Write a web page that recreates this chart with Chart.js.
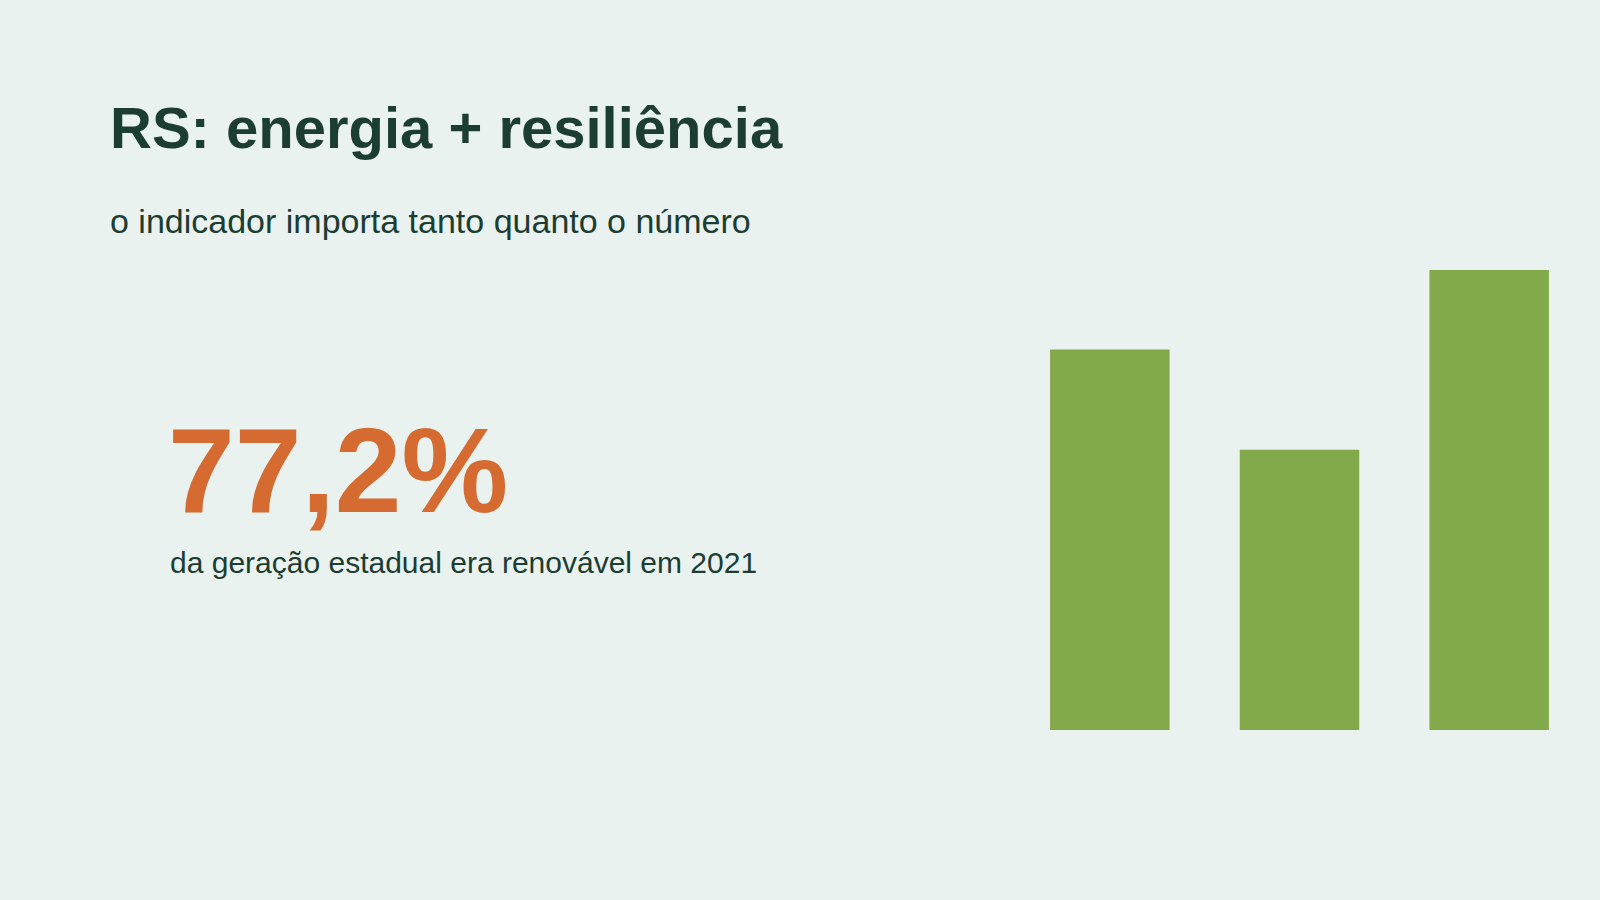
<!DOCTYPE html>
<html><head><meta charset="utf-8">
<script src="https://cdn.jsdelivr.net/npm/chart.js@4"></script>
<style>
html,body{margin:0;padding:0;width:1600px;height:900px;background:#EAF2EF;overflow:hidden;font-family:"Liberation Sans",Arial,sans-serif;color:#1B3D32}
#t{position:absolute;left:110px;top:94px;font-size:58px;font-weight:bold;margin:0;white-space:nowrap}
#s{position:absolute;left:110px;top:202px;font-size:34px;white-space:nowrap}
#n{position:absolute;left:168px;top:410px;font-size:120px;font-weight:bold;color:#D66B32;white-space:nowrap;line-height:1}
#c{position:absolute;left:170px;top:546px;font-size:30px;white-space:nowrap}
#w{position:absolute;left:1015px;top:270px;width:569px;height:460px}
</style></head><body>
<div id="t">RS: energia + resiliência</div>
<div id="s">o indicador importa tanto quanto o número</div>
<div id="n">77,2%</div>
<div id="c">da geração estadual era renovável em 2021</div>
<div id="w"><canvas id="cv"></canvas></div>
<script>
const categories = ["A","B","C"];
const values = [82.7, 60.9, 100];
new Chart(document.getElementById('cv'),{
  type:'bar',
  data:{labels:categories,datasets:[{data:values,backgroundColor:'#82A94A',borderWidth:0,barPercentage:0.63,categoryPercentage:1}]},
  options:{responsive:true,maintainAspectRatio:false,animation:false,
    layout:{padding:0},
    plugins:{legend:{display:false},tooltip:{enabled:false}},
    scales:{x:{display:false},y:{display:false,min:0,max:100}}}
});
</script>
</body></html>
